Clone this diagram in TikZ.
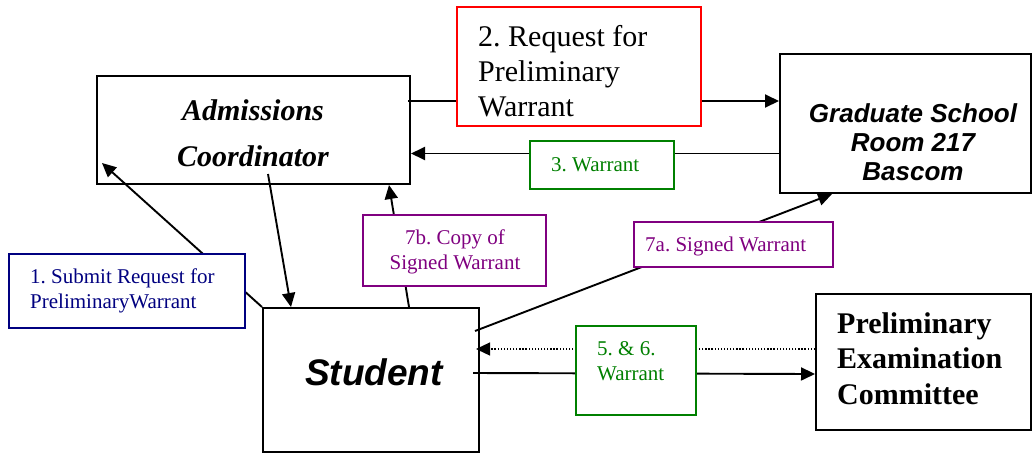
\documentclass[tikz,border=0pt]{standalone}
\usepackage{fontspec}
\setmainfont{Liberation Serif}
\newfontfamily\arialfont{Liberation Sans}
\usetikzlibrary{arrows.meta,backgrounds}
\definecolor{navytext}{RGB}{0,0,128}
\definecolor{greentext}{RGB}{0,128,0}
\definecolor{violettext}{RGB}{128,0,128}
\definecolor{redline}{RGB}{255,0,0}
\frenchspacing

\begin{document}
\begin{tikzpicture}[x=1pt,y=-1pt,
  mainbox/.style={draw=black,line width=2pt,inner sep=0pt},
  tagbox/.style={line width=1.6pt,fill=white,inner sep=0pt},
  txt/.style={inner sep=0pt},
  serifsmall/.style={font=\fontsize{21}{24.5}\selectfont},
  conn/.style={line width=1.9pt,-{Triangle[length=14pt,width=13pt]}},
]
\useasboundingbox (0,0) rectangle (1032,453);

% main offices
\node[mainbox,minimum width=313pt,minimum height=108pt] (adm) at (253.5,130) {};
\node[mainbox,minimum width=251pt,minimum height=139pt] (grad) at (905.5,123.5) {};
\node[mainbox,minimum width=216pt,minimum height=144pt] (stu) at (371,380) {};
\node[mainbox,minimum width=215pt,minimum height=136pt] (pec) at (923.5,362) {};

% step labels sitting on the connectors
\node[tagbox,draw=redline,minimum width=244pt,minimum height=119pt] (req) at (579,66.5) {};
\node[tagbox,draw=navytext,minimum width=236pt,minimum height=74pt] (sub) at (127,291) {};
\node[tagbox,draw=greentext,minimum width=144pt,minimum height=48pt] (war3) at (602,165) {};
\node[tagbox,draw=violettext,minimum width=183pt,minimum height=71pt] (copy7b) at (454.5,250.5) {};
\node[tagbox,draw=violettext,minimum width=199pt,minimum height=45pt] (sig7a) at (733.5,244.5) {};
\node[tagbox,draw=greentext,minimum width=120pt,minimum height=89pt] (war56) at (636,370.5) {};

% texts of the offices (multi-line nodes sit on their last baseline)
\node[txt,anchor=base,align=center,font=\fontsize{30}{46}\selectfont\bfseries\itshape] (admT) at (253,166.7) {Admissions\\Coordinator};
\node[txt,anchor=base,align=center,font=\arialfont\fontsize{26}{29}\selectfont\bfseries\itshape] (gradT) at (913,180) {Graduate School\\Room 217\\Bascom};
\node[txt,anchor=base,font=\arialfont\fontsize{37}{44}\selectfont\bfseries\itshape] (stuT) at (374,385) {Student};
\node[txt,anchor=base west,align=left,font=\fontsize{30}{35.5}\selectfont\bfseries] (pecT) at (837,404) {Preliminary\\Examination\\Committee};

% texts of the steps
\node[txt,anchor=base west,align=left,font=\fontsize{30}{35}\selectfont] (reqT) at (478,116) {2. Request for\\Preliminary\\Warrant};
\node[txt,anchor=base west,align=left,serifsmall,text=navytext] (subT) at (30,308) {1. Submit Request for\\PreliminaryWarrant};
\node[txt,anchor=base west,serifsmall,text=greentext] (war3T) at (551,171) {3. Warrant};
\node[txt,anchor=base,align=center,serifsmall,text=violettext] (copy7bT) at (455,269) {7b. Copy of\\Signed Warrant};
\node[txt,anchor=base west,serifsmall,text=violettext] (sig7aT) at (645,251) {7a. Signed Warrant};
\node[txt,anchor=base west,align=left,serifsmall,text=greentext] (war56T) at (597,380) {5. \& 6.\\Warrant};

% connectors, kept behind the step labels
\begin{pgfonlayer}{background}
  \draw[conn] (stu.north west) -- ([xshift=6pt,yshift=22pt]adm.south west);
  \draw[conn] ([xshift=-3pt,yshift=-26pt]adm.north east) -- ([yshift=-48pt]grad.north west);
  \draw[conn] ([yshift=40.5pt]grad.south west) -- ([yshift=31.5pt]adm.south east);
  \draw[conn] ([xshift=172pt,yshift=11pt]adm.south west) -- ([xshift=29pt]stu.north west);
  \draw[conn] ([xshift=147pt]stu.north west) -- ([xshift=-22pt]adm.south east);
  \draw[conn] ([xshift=-5pt,yshift=-24pt]stu.north east) -- ([xshift=53pt]grad.south west);
  \draw[conn,line width=1.3pt,dash pattern=on 1.3pt off 1.8pt] ([yshift=-56pt]pec.north west) -- ([xshift=-4pt,yshift=-42pt]stu.north east);
  \draw[conn] ([xshift=-7pt,yshift=-66pt]stu.north east) -- ([yshift=-81pt]pec.north west);
\end{pgfonlayer}
\end{tikzpicture}
\end{document}
